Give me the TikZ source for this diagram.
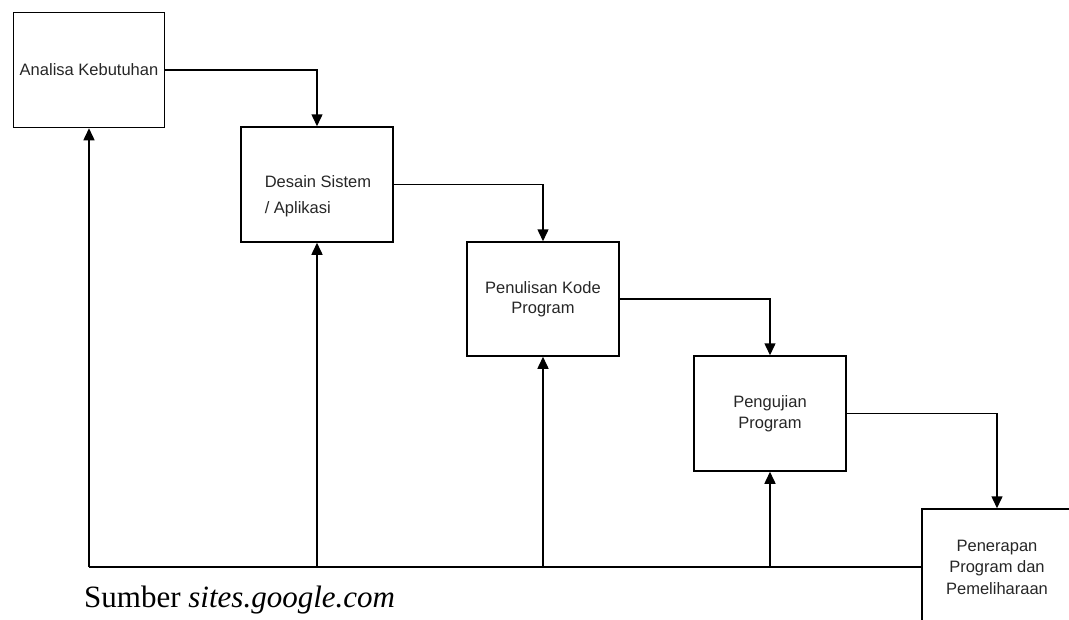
\documentclass[tikz,border=0pt]{standalone}
\usepackage{fontspec}
\setmainfont{Liberation Serif}
\newfontfamily\boxfont{Liberation Sans}
\usetikzlibrary{arrows.meta}
\begin{document}
\begin{tikzpicture}[x=1pt,y=-1pt,
  box/.style={draw, line width=1.5pt, inner sep=0pt, text=black!85,
    font=\boxfont\fontsize{16.5}{20.5}\selectfont, align=center},
  boxtext/.style={inner sep=0pt, text=black!85, font=\boxfont\fontsize{16.5}{26}\selectfont},
  conn/.style={line width=1.5pt, -{Triangle[length=12pt,width=11pt]}},
  plain/.style={line width=1.5pt}]
\useasboundingbox (0,0) rectangle (1069,619);
\clip (0,0) rectangle (1069,619);

\node[box, minimum width=151pt, minimum height=115pt] (b1) at (89,70) {Analisa Kebutuhan};
\node[box, minimum width=152pt, minimum height=115pt] (b2) at (317,184.5) {};
\node[boxtext, align=left] (t2) at (318,196) {Desain Sistem\\ / Aplikasi};
\node[box, minimum width=152pt, minimum height=114pt] (b3) at (543,299) {Penulisan Kode\\Program};
\node[box, minimum width=152pt, minimum height=115pt] (b4) at (770,413.5) {Pengujian\\Program};
\node[box, minimum width=150pt, minimum height=116pt, font=\boxfont\fontsize{16.5}{21.5}\selectfont] (b5) at (997,567) {Penerapan\\Program dan\\Pemeliharaan};

% forward flow
\draw[conn] (b1.east) -- (b1.east -| b2.north) -- (b2.north);
\draw[conn] (b2.east) -- (b2.east -| b3.north) -- (b3.north);
\draw[conn] (b3.east) -- (b3.east -| b4.north) -- (b4.north);
\draw[conn] (b4.east) -- (b4.east -| b5.north) -- (b5.north);

% feedback line
\coordinate (j1) at (b5.west -| b1.south);
\coordinate (j2) at (b5.west -| b2.south);
\coordinate (j3) at (b5.west -| b3.south);
\coordinate (j4) at (b5.west -| b4.south);
\draw[plain] (b5.west) -- (j1);
\draw[conn] (j1) -- (b1.south);
\draw[conn] (j2) -- (b2.south);
\draw[conn] (j3) -- (b3.south);
\draw[conn] (j4) -- (b4.south);

\node[anchor=base west, inner sep=0pt, font=\fontsize{31}{36}\selectfont] (src) at (84,607) {Sumber \textit{sites.google.com}};
\end{tikzpicture}
\end{document}
